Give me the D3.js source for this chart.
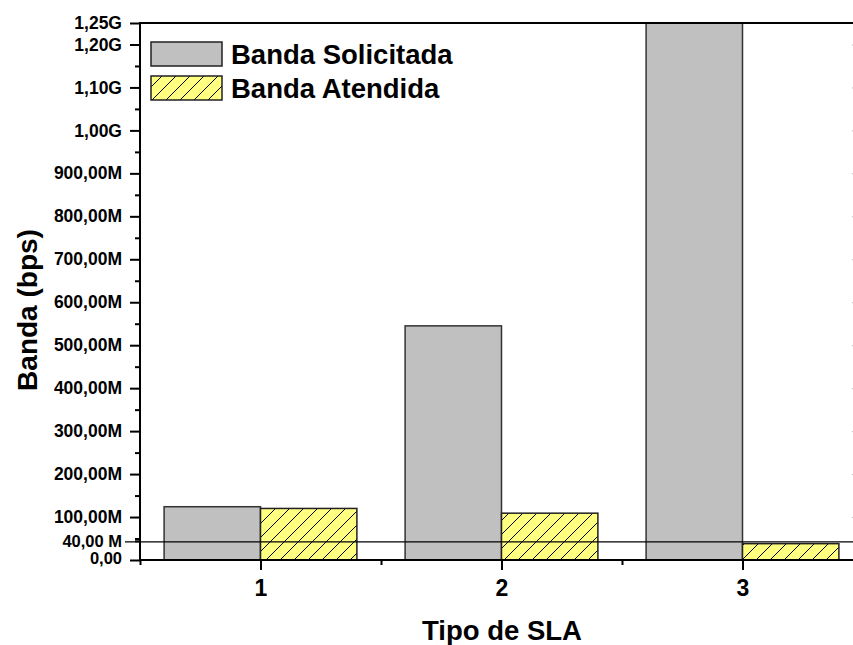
<!DOCTYPE html>
<html>
<head>
<meta charset="utf-8">
<script src="https://cdn.jsdelivr.net/npm/d3@7/dist/d3.min.js"></script>
<style>
  html, body { margin: 0; padding: 0; background: #fff; }
  svg { display: block; }
  text { font-family: "Liberation Sans", Arial, sans-serif; font-weight: bold; fill: #000; }
</style>
</head>
<body>
<script>
// ---- data ----
const categories = [1, 2, 3];
const seriesNames = ["Banda Solicitada", "Banda Atendida"];
const solicitada = [124e6, 545e6, 1.5e9];
const atendida = [120e6, 109e6, 38e6];
const yMajorTicks = [100e6, 200e6, 300e6, 400e6, 500e6, 600e6, 700e6, 800e6, 900e6, 1.0e9, 1.1e9, 1.2e9, 1.25e9];
const yMajorLabels = ["100,00M", "200,00M", "300,00M", "400,00M", "500,00M", "600,00M", "700,00M", "800,00M", "900,00M", "1,00G", "1,10G", "1,20G", "1,25G"];
const yMinorTicks = [50e6, 150e6, 250e6, 350e6, 450e6, 550e6, 650e6, 750e6, 850e6, 950e6, 1.05e9, 1.15e9];
const zeroLabel = "0,00";
const refValue = 40e6;
const refLabel = "40,00 M";
const xMinorTicks = [0.5, 1.5, 2.5, 3.5];
const xTitle = "Tipo de SLA";
const yTitle = "Banda (bps)";

// ---- layout ----
const W = 853, H = 645;
const mLeft = 140, mTop = 23, mBottom = 560, mRight = 863;
const barW = 0.4;

const svg = d3.select("body").append("svg").attr("width", W).attr("height", H);
svg.append("rect").attr("width", W).attr("height", H).attr("fill", "#fff");

const defs = svg.append("defs");
const pat = defs.append("pattern").attr("id", "hatch").attr("patternUnits", "userSpaceOnUse")
  .attr("width", 14).attr("height", 14);
pat.append("rect").attr("width", 14).attr("height", 14).attr("fill", "#ffff80");
pat.append("path").attr("d", "M0,14 L14,0 M-3.5,3.5 L3.5,-3.5 M10.5,17.5 L17.5,10.5")
  .attr("stroke", "#000").attr("stroke-width", 1);

defs.append("clipPath").attr("id", "plotclip").append("rect")
  .attr("x", mLeft).attr("y", mTop).attr("width", mRight - mLeft).attr("height", mBottom - mTop);

const x = d3.scaleLinear().domain([0.5, 3.5]).range([mLeft, mRight]);
const y = d3.scaleLinear().domain([0, 1.25e9]).range([mBottom, mTop]);

// ---- bars ----
const plot = svg.append("g").attr("clip-path", "url(#plotclip)");
plot.selectAll("rect.sol").data(categories).join("rect").attr("class", "sol")
  .attr("x", (d) => x(d - barW))
  .attr("width", (d) => x(d) - x(d - barW))
  .attr("y", (d, i) => y(solicitada[i]))
  .attr("height", (d, i) => y(0) - y(solicitada[i]))
  .attr("fill", "#c0c0c0").attr("stroke", "#333").attr("stroke-width", 1.5);
plot.selectAll("rect.ate").data(categories).join("rect").attr("class", "ate")
  .attr("x", (d) => x(d))
  .attr("width", (d) => x(d + barW) - x(d))
  .attr("y", (d, i) => y(atendida[i]))
  .attr("height", (d, i) => y(0) - y(atendida[i]))
  .attr("fill", "url(#hatch)").attr("stroke", "#222").attr("stroke-width", 1.5);

// ---- reference line ----
svg.append("line").attr("x1", 125).attr("x2", W)
  .attr("y1", y(refValue) - 1).attr("y2", y(refValue) - 1)
  .attr("stroke", "#000").attr("stroke-width", 1.2);

// ---- axes ----
const fontStyle = (sel, size) => sel.style("font-size", size + "px")
  .style("font-family", "Liberation Sans, Arial, sans-serif").style("font-weight", "bold").attr("fill", "#000");

const yAxis = d3.axisLeft(y).tickValues(yMajorTicks)
  .tickFormat((d, i) => yMajorLabels[i]).tickSize(10).tickPadding(8);
const gy = svg.append("g").attr("transform", `translate(${mLeft},0)`).call(yAxis);
gy.select(".domain").remove();
gy.selectAll("line").attr("stroke", "#000").attr("stroke-width", 2);
fontStyle(gy.selectAll("text"), 17.5);

// zero tick and label
const gz = svg.append("g").attr("transform", `translate(${mLeft},0)`)
  .call(d3.axisLeft(y).tickValues([0]).tickFormat(() => zeroLabel).tickSize(10).tickPadding(8));
gz.select(".domain").remove();
gz.selectAll("line").attr("stroke", "#000").attr("stroke-width", 2);
fontStyle(gz.selectAll("text"), 16.5);
gz.selectAll("text").attr("dy", "0.2em");

const yMinor = d3.axisLeft(y).tickValues(yMinorTicks).tickFormat("").tickSize(5);
const gym = svg.append("g").attr("transform", `translate(${mLeft},0)`).call(yMinor);
gym.select(".domain").remove();
gym.selectAll("line").attr("stroke", "#000").attr("stroke-width", 2);

// reference label
const gref = svg.append("g").attr("transform", `translate(${mLeft},0)`)
  .call(d3.axisLeft(y).tickValues([refValue]).tickFormat(() => refLabel).tickSize(5).tickPadding(13));
gref.select(".domain").remove();
gref.selectAll("line").attr("stroke", "#000").attr("stroke-width", 2).attr("transform", "translate(0,-2)");
fontStyle(gref.selectAll("text"), 16.5);
gref.selectAll("text").attr("dy", "0.2em");

// right mirrored axis (mostly off-canvas)
const gr = svg.append("g").attr("transform", `translate(${mRight},0)`)
  .call(d3.axisLeft(y).tickValues(yMajorTicks.slice(0, -1)).tickFormat("").tickSize(-11));
gr.select(".domain").remove();
gr.selectAll("line").attr("stroke", "#bbb").attr("stroke-width", 1).attr("x2", -11);

const xAxis = d3.axisBottom(x).tickValues(categories).tickFormat((d) => String(d)).tickSize(10).tickPadding(9);
const gx = svg.append("g").attr("transform", `translate(0,${mBottom})`).call(xAxis);
gx.select(".domain").remove();
gx.selectAll("line").attr("stroke", "#000").attr("stroke-width", 2);
fontStyle(gx.selectAll("text"), 23);
gx.selectAll("text").attr("dy", "0.72em");

const gxm = svg.append("g").attr("transform", `translate(0,${mBottom})`)
  .call(d3.axisBottom(x).tickValues(xMinorTicks).tickFormat("").tickSize(5));
gxm.select(".domain").remove();
gxm.selectAll("line").attr("stroke", "#000").attr("stroke-width", 2);

// frame lines
svg.append("line").attr("x1", mLeft).attr("x2", mLeft).attr("y1", mTop - 1).attr("y2", mBottom + 1)
  .attr("stroke", "#000").attr("stroke-width", 2);
svg.append("line").attr("x1", mLeft - 1).attr("x2", W).attr("y1", mBottom).attr("y2", mBottom)
  .attr("stroke", "#000").attr("stroke-width", 2);
svg.append("line").attr("x1", mLeft - 1).attr("x2", W).attr("y1", mTop).attr("y2", mTop)
  .attr("stroke", "#000").attr("stroke-width", 2);

// ---- titles ----
svg.append("text").attr("x", 502).attr("y", 640).attr("text-anchor", "middle")
  .style("font-size", "27.5px").text(xTitle);
svg.append("text").attr("transform", "translate(37,310) rotate(-90)").attr("text-anchor", "middle")
  .style("font-size", "28px").text(yTitle);

// ---- legend ----
const legendFills = ["#c0c0c0", "url(#hatch)"];
const lg = svg.append("g");
seriesNames.forEach((name, i) => {
  const yy = 42 + i * 34;
  lg.append("rect").attr("x", 151).attr("y", yy).attr("width", 71).attr("height", 24)
    .attr("fill", legendFills[i]).attr("stroke", "#222").attr("stroke-width", 1.5);
  lg.append("text").attr("x", 231).attr("y", yy + 22).style("font-size", "27.5px").text(name);
});
</script>
</body>
</html>
